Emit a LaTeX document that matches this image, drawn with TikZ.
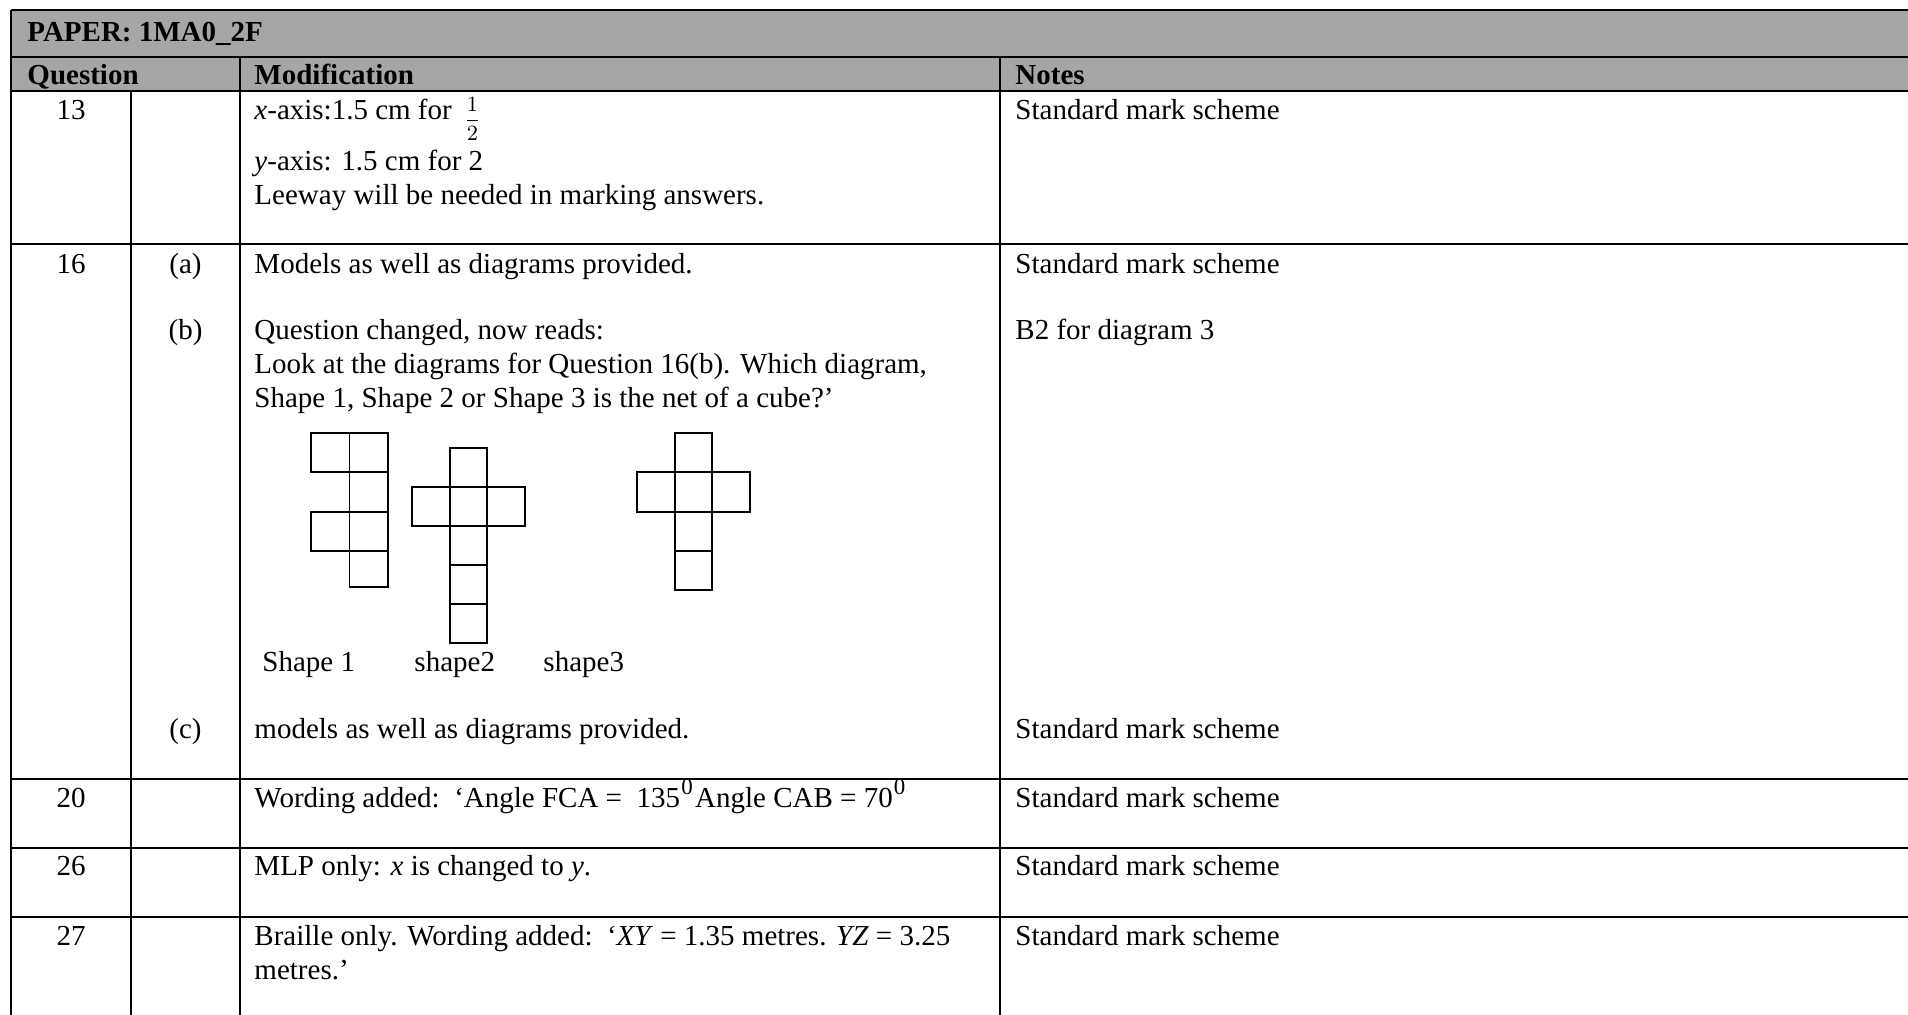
\documentclass[tikz,border=0pt]{standalone}
\usepackage{fontspec}
\setmainfont{Liberation Serif}
\usetikzlibrary{positioning}
\definecolor{headgray}{RGB}{166,166,166}
\newcommand\tabfont{\fontsize{12}{14.5}\selectfont}
\newcommand\halffrac{\raisebox{-2.4pt}{\fontsize{9}{10}\selectfont$\displaystyle\frac{1}{2}$}}
\newcommand\degz{\kern0.5pt\raisebox{0.42em}{\fontsize{9.5}{10}\selectfont 0}}

\tikzset{
  txt/.style={anchor=base west,inner sep=0pt,font=\tabfont},
  num/.style={anchor=base,inner sep=0pt,font=\tabfont},
  hd/.style={anchor=base west,inner sep=0pt,font=\tabfont\bfseries},
  rule/.style={line width=1pt},
  sq/.style={line width=0.75pt}
}

\begin{document}
\begin{tikzpicture}[x=0.4138pt,y=-0.4138pt]
  \useasboundingbox (0,0) rectangle (1908,1015);
  % header rows
  \fill[headgray] (11,10) rectangle (1908,91);
  \draw[rule] (11,10) -- (1908,10);
  \draw[rule] (11,57) -- (1908,57);
  \draw[rule] (11,91) -- (1908,91);
  \draw[rule] (11,244) -- (1908,244);
  \draw[rule] (11,779) -- (1908,779);
  \draw[rule] (11,848) -- (1908,848);
  \draw[rule] (11,917) -- (1908,917);
  % column lines
  \draw[rule] (11,10) -- (11,1015);
  \draw[rule] (131,91) -- (131,1015);
  \draw[rule] (240,57) -- (240,1015);
  \draw[rule] (1000,57) -- (1000,1015);

  \node[hd] (hpaper) at (27,42) {PAPER: 1MA0\_2F};
  \node[hd] (hquestion) at (27,85) {Question};
  \node[hd] (hmod) at (254,85) {Modification};
  \node[hd] (hnotes) at (1015,85) {Notes};

  % question 13
  \node[num] (q13) at (71,120) {13};
  \node[txt] (m13a) at (254,120) {\textit{x}-axis:1.5 cm for \,\halffrac};
  \node[txt] (m13b) at (254,171) {\textit{y}-axis: 1.5 cm for 2};
  \node[txt] (m13c) at (254,205) {Leeway will be needed in marking answers.};
  \node[txt] (n13) at (1015,120) {Standard mark scheme};

  % question 16
  \node[num] (q16) at (71,273) {16};
  \node[num] (pa) at (185.5,273) {(a)};
  \node[txt] (m16a) at (254,273) {Models as well as diagrams provided.};
  \node[txt] (n16a) at (1015,273) {Standard mark scheme};
  \node[num] (pb) at (185.5,339) {(b)};
  \node[txt] (m16b1) at (254,339) {Question changed, now reads:};
  \node[txt] (m16b2) at (254,373) {Look at the diagrams for Question 16(b). Which diagram,};
  \node[txt] (m16b3) at (254,407) {Shape 1, Shape 2 or Shape 3 is the net of a cube?’};
  \node[txt] (n16b) at (1015,339) {B2 for diagram 3};

  % shape 1
  \draw[sq] (311,433) rectangle (349.5,472);
  \draw[sq] (349.5,433) rectangle (388,472);
  \draw[sq] (349.5,472) rectangle (388,512);
  \draw[sq] (311,512) rectangle (349.5,551);
  \draw[sq] (349.5,512) rectangle (388,551);
  \draw[sq] (349.5,551) rectangle (388,587);
  % shape 2
  \draw[sq] (449.7,448) rectangle (487.2,487);
  \draw[sq] (411.7,487) rectangle (449.7,526);
  \draw[sq] (449.7,487) rectangle (487.2,526);
  \draw[sq] (487.2,487) rectangle (525.2,526);
  \draw[sq] (449.7,526) rectangle (487.2,565);
  \draw[sq] (449.7,565) rectangle (487.2,604);
  \draw[sq] (449.7,604) rectangle (487.2,643);
  % shape 3
  \draw[sq] (675.2,433) rectangle (712.4,472);
  \draw[sq] (637.2,472) rectangle (675.2,512);
  \draw[sq] (675.2,472) rectangle (712.4,512);
  \draw[sq] (712.4,472) rectangle (750.3,512);
  \draw[sq] (675.2,512) rectangle (712.4,551);
  \draw[sq] (675.2,551) rectangle (712.4,590);

  \node[txt] (lshape1) at (262,671) {Shape 1};
  \node[txt] (lshape2) at (414,671) {shape2};
  \node[txt] (lshape3) at (543,671) {shape3};

  \node[num] (pc) at (185.5,738) {(c)};
  \node[txt] (m16c) at (254,738) {models as well as diagrams provided.};
  \node[txt] (n16c) at (1015,738) {Standard mark scheme};

  % questions 20, 26, 27
  \node[num] (q20) at (71,807) {20};
  \node[txt] (m20) at (254,807) {Wording added:\ \ ‘Angle FCA =\ \ 135\degz\kern1pt Angle CAB = 70\degz};
  \node[txt] (n20) at (1015,807) {Standard mark scheme};
  \node[num] (q26) at (71,875) {26};
  \node[txt] (m26) at (254,875) {MLP only: \textit{x} is changed to \textit{y}.};
  \node[txt] (n26) at (1015,875) {Standard mark scheme};
  \node[num] (q27) at (71,945) {27};
  \node[txt] (m27a) at (254,945) {Braille only. Wording added:\ \ ‘\textit{XY} = 1.35 metres. \textit{YZ} = 3.25};
  \node[txt] (m27b) at (254,979) {metres.’};
  \node[txt] (n27) at (1015,945) {Standard mark scheme};
\end{tikzpicture}
\end{document}
